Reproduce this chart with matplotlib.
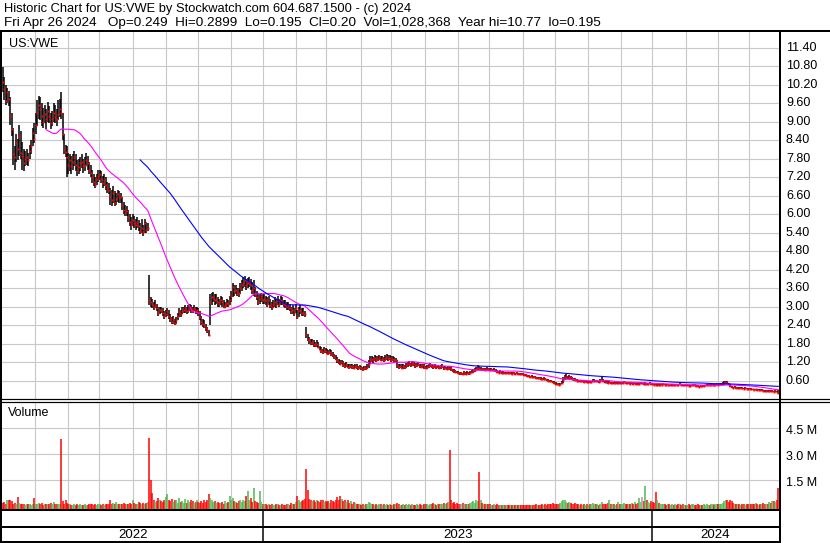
import numpy as np
import pandas as pd
import matplotlib
matplotlib.use('Agg')
import matplotlib.pyplot as plt
from matplotlib.lines import Line2D
from matplotlib.transforms import blended_transform_factory, offset_copy

plt.rcParams['font.family'] = ['Liberation Sans', 'DejaVu Sans']

# daily bars May 2022 - Apr 2024, one row per month
close = [
    10.30, 10.05, 9.67, 9.95, 9.73, 9.20, 8.75, 7.95, 7.84, 8.30, 8.10, 8.55, 8.00, 7.90, 7.67, 7.80, 7.87, 7.75, 8.05, 8.20, 8.65, 8.45,
    8.90, 9.30, 9.56, 9.40, 9.20, 9.00, 9.25, 9.10, 9.35, 9.20, 8.95, 9.08, 9.30, 9.15, 9.08, 9.25, 9.40, 9.30, 8.60, 8.10, 8.03, 7.84,
    7.60, 7.75, 7.55, 7.70, 7.85, 7.60, 7.45, 7.52, 7.65, 7.70, 7.55, 7.60, 7.77, 7.65, 7.45, 7.35, 7.20, 7.05, 6.96, 7.15, 7.25,
    7.29, 7.15, 7.00, 7.10, 6.95, 6.85, 6.80, 6.60, 6.45, 6.70, 6.37, 6.50, 6.65, 6.55, 6.57, 6.30, 6.15, 6.05, 6.10, 5.90, 5.75, 5.66, 5.80,
    5.70, 5.66, 5.75, 5.60, 5.45, 5.55, 5.43, 5.70, 5.50, 5.55, 3.21, 3.15, 3.10, 3.00, 3.05, 2.95, 2.79, 2.90, 2.89, 2.80, 2.70, 2.75,
    2.85, 2.70, 2.60, 2.50, 2.60, 2.46, 2.55, 2.70, 2.82, 2.75, 2.85, 2.89, 2.95, 2.85, 2.90, 2.98, 2.90, 2.89, 2.95, 2.85, 2.90,
    2.80, 2.65, 2.50, 2.45, 2.40, 2.30, 2.24, 2.07, 3.15, 3.30, 3.31, 3.20, 3.25, 3.15, 3.10, 3.20, 3.15, 3.00, 3.05, 3.11, 3.05, 3.20,
    3.35, 3.64, 3.50, 3.55, 3.45, 3.44, 3.60, 3.70, 3.77, 3.85, 3.70, 3.75, 3.80, 3.70, 3.55, 3.60, 3.40, 3.30, 3.15, 3.25, 3.35, 3.20,
    3.25, 3.21, 3.10, 3.20, 3.05, 3.00, 3.10, 3.15, 3.05, 3.20, 3.10, 3.21, 3.15, 3.10, 3.05, 3.00, 3.05, 2.95, 2.85, 2.89, 2.80, 2.95,
    2.66, 2.85, 2.90, 2.80, 2.79, 2.75, 2.10, 1.95, 1.90, 1.81, 1.85, 1.78, 1.75, 1.80, 1.68, 1.60, 1.55, 1.52, 1.58, 1.55,
    1.50, 1.49, 1.52, 1.45, 1.42, 1.35, 1.30, 1.25, 1.20, 1.15, 1.20, 1.10, 1.08, 1.12, 1.05, 1.03, 1.08, 1.05, 1.02, 1.06, 1.03, 1.00, 1.04,
    1.00, 0.98, 1.02, 1.00, 1.05, 1.15, 1.28, 1.30, 1.25, 1.32, 1.26, 1.30, 1.35, 1.28, 1.30, 1.26, 1.32, 1.35, 1.30, 1.33,
    1.28, 1.30, 1.25, 1.26, 1.10, 1.05, 1.08, 1.02, 1.06, 1.03, 1.10, 1.12, 1.15, 1.10, 1.16, 1.12, 1.08, 1.10, 1.13, 1.08, 1.05, 1.09, 1.04,
    1.00, 1.05, 1.08, 1.10, 1.06, 1.04, 1.07, 1.03, 1.05, 1.02, 1.03, 1.06, 1.00, 1.02, 0.98, 1.01, 1.00, 0.96, 0.93, 0.90, 0.88, 0.87,
    0.85, 0.83, 0.83, 0.80, 0.84, 0.82, 0.85, 0.83, 0.86, 0.88, 0.90, 0.94, 0.98, 1.02, 0.97, 0.98, 0.96, 0.97, 0.95, 0.97, 0.96,
    0.95, 0.96, 0.94, 0.95, 0.92, 0.88, 0.86, 0.88, 0.85, 0.86, 0.84, 0.85, 0.84, 0.83, 0.84, 0.82, 0.83, 0.82, 0.83, 0.81, 0.82, 0.81, 0.80,
    0.78, 0.77, 0.75, 0.74, 0.72, 0.73, 0.71, 0.70, 0.68, 0.69, 0.67, 0.66, 0.65, 0.66, 0.64, 0.62, 0.60, 0.58, 0.57, 0.55, 0.53,
    0.50, 0.48, 0.47, 0.49, 0.52, 0.62, 0.70, 0.72, 0.68, 0.72, 0.70, 0.66, 0.64, 0.62, 0.60, 0.58, 0.59, 0.57, 0.58, 0.56, 0.57, 0.55,
    0.56, 0.54, 0.55, 0.58, 0.60, 0.57, 0.58, 0.56, 0.60, 0.62, 0.58, 0.55, 0.54, 0.53, 0.54, 0.52, 0.53, 0.52, 0.53, 0.51, 0.52, 0.51,
    0.52, 0.53, 0.55, 0.52, 0.51, 0.52, 0.50, 0.51, 0.50, 0.51, 0.50, 0.49, 0.50, 0.51, 0.51, 0.49, 0.50, 0.49, 0.50, 0.51, 0.50,
    0.48, 0.47, 0.46, 0.47, 0.45, 0.46, 0.47, 0.48, 0.46, 0.45, 0.46, 0.44, 0.45, 0.46, 0.45, 0.47, 0.46, 0.45, 0.48, 0.47, 0.45, 0.46, 0.44,
    0.45, 0.43, 0.42, 0.44, 0.46, 0.45, 0.43, 0.41, 0.40, 0.42, 0.41, 0.43, 0.44, 0.45, 0.46, 0.45, 0.46, 0.47, 0.46, 0.47, 0.48,
    0.47, 0.48, 0.49, 0.50, 0.52, 0.54, 0.52, 0.48, 0.42, 0.38, 0.37, 0.38, 0.36, 0.37, 0.35, 0.36, 0.35, 0.34, 0.36, 0.34, 0.33,
    0.34, 0.32, 0.31, 0.30, 0.31, 0.29, 0.30, 0.28, 0.29, 0.27, 0.26, 0.27, 0.25, 0.26, 0.25, 0.26, 0.24, 0.25, 0.24, 0.20,
]
high = [
    10.77, 10.45, 10.20, 10.10, 10.00, 9.80, 9.30, 8.80, 8.20, 8.60, 8.45, 8.90, 8.70, 8.35, 8.10, 8.05, 8.10, 8.00, 8.25, 8.40, 8.80, 8.95,
    9.30, 9.70, 9.85, 9.80, 9.60, 9.45, 9.55, 9.40, 9.65, 9.50, 9.30, 9.35, 9.60, 9.55, 9.40, 9.70, 9.75, 9.95, 9.30, 8.60, 8.25, 8.20,
    8.00, 7.95, 7.90, 7.95, 8.05, 7.95, 7.75, 7.80, 7.85, 7.95, 7.80, 7.85, 8.00, 7.90, 7.70, 7.60, 7.45, 7.30, 7.20, 7.30, 7.45,
    7.45, 7.40, 7.25, 7.30, 7.20, 7.05, 7.00, 6.85, 6.80, 6.90, 6.75, 6.70, 6.80, 6.75, 6.70, 6.55, 6.40, 6.30, 6.25, 6.15, 6.00, 5.90, 6.00,
    5.95, 5.85, 5.90, 5.80, 5.70, 5.85, 5.65, 5.85, 5.75, 5.70, 4.02, 3.30, 3.25, 3.15, 3.20, 3.10, 3.00, 3.00, 3.00, 2.95, 2.85, 2.90,
    2.95, 2.90, 2.75, 2.65, 2.70, 2.60, 2.65, 2.80, 2.95, 2.90, 3.00, 3.00, 3.05, 3.00, 3.05, 3.10, 3.05, 3.00, 3.05, 3.00, 3.00,
    2.95, 2.85, 2.70, 2.60, 2.55, 2.45, 2.35, 2.25, 3.40, 3.45, 3.47, 3.40, 3.40, 3.30, 3.25, 3.35, 3.30, 3.20, 3.15, 3.25, 3.20, 3.35,
    3.50, 3.75, 3.70, 3.70, 3.60, 3.60, 3.75, 3.85, 3.96, 3.98, 3.90, 3.92, 3.95, 3.90, 3.80, 3.85, 3.65, 3.50, 3.45, 3.40, 3.45, 3.40,
    3.40, 3.35, 3.30, 3.35, 3.25, 3.15, 3.20, 3.30, 3.25, 3.35, 3.25, 3.35, 3.30, 3.20, 3.20, 3.15, 3.15, 3.10, 3.00, 3.05, 2.95, 3.10,
    2.90, 3.00, 3.05, 2.95, 2.95, 2.85, 2.35, 2.10, 2.00, 1.95, 1.95, 1.90, 1.85, 1.90, 1.85, 1.72, 1.68, 1.62, 1.68, 1.65,
    1.62, 1.60, 1.62, 1.58, 1.52, 1.45, 1.42, 1.35, 1.30, 1.25, 1.28, 1.22, 1.18, 1.20, 1.15, 1.12, 1.15, 1.12, 1.10, 1.14, 1.12, 1.08, 1.10,
    1.08, 1.05, 1.08, 1.07, 1.12, 1.25, 1.38, 1.40, 1.35, 1.42, 1.38, 1.40, 1.44, 1.38, 1.40, 1.36, 1.42, 1.45, 1.42, 1.44,
    1.38, 1.40, 1.35, 1.34, 1.28, 1.15, 1.15, 1.12, 1.12, 1.10, 1.18, 1.20, 1.22, 1.18, 1.22, 1.20, 1.16, 1.18, 1.20, 1.15, 1.12, 1.15, 1.12,
    1.08, 1.10, 1.14, 1.16, 1.12, 1.10, 1.12, 1.09, 1.10, 1.08, 1.09, 1.12, 1.08, 1.07, 1.05, 1.06, 1.06, 1.03, 0.99, 0.96, 0.94, 0.92,
    0.90, 0.88, 0.88, 0.86, 0.90, 0.88, 0.90, 0.88, 0.92, 0.93, 0.96, 1.00, 1.04, 1.10, 1.06, 1.04, 1.02, 1.02, 1.00, 1.03, 1.01,
    1.00, 1.01, 0.99, 1.00, 0.97, 0.94, 0.92, 0.93, 0.90, 0.90, 0.89, 0.89, 0.88, 0.88, 0.88, 0.87, 0.87, 0.86, 0.87, 0.85, 0.86, 0.85, 0.84,
    0.82, 0.81, 0.79, 0.78, 0.76, 0.77, 0.75, 0.74, 0.72, 0.73, 0.71, 0.70, 0.69, 0.70, 0.68, 0.66, 0.64, 0.62, 0.61, 0.59, 0.57,
    0.55, 0.53, 0.51, 0.53, 0.58, 0.70, 0.78, 0.80, 0.76, 0.78, 0.76, 0.72, 0.69, 0.67, 0.65, 0.63, 0.63, 0.61, 0.62, 0.60, 0.61, 0.59,
    0.60, 0.58, 0.59, 0.64, 0.66, 0.62, 0.62, 0.60, 0.66, 0.72, 0.64, 0.59, 0.58, 0.57, 0.57, 0.56, 0.56, 0.55, 0.56, 0.55, 0.55, 0.54,
    0.55, 0.56, 0.60, 0.56, 0.54, 0.55, 0.54, 0.54, 0.53, 0.54, 0.53, 0.52, 0.53, 0.54, 0.54, 0.52, 0.54, 0.52, 0.53, 0.54, 0.53,
    0.52, 0.50, 0.49, 0.50, 0.48, 0.49, 0.50, 0.51, 0.49, 0.48, 0.49, 0.47, 0.48, 0.49, 0.48, 0.50, 0.49, 0.48, 0.52, 0.50, 0.48, 0.49, 0.47,
    0.48, 0.47, 0.45, 0.47, 0.50, 0.48, 0.46, 0.44, 0.43, 0.45, 0.44, 0.46, 0.47, 0.48, 0.49, 0.48, 0.49, 0.50, 0.49, 0.50, 0.51,
    0.50, 0.51, 0.52, 0.54, 0.57, 0.60, 0.60, 0.53, 0.48, 0.43, 0.40, 0.41, 0.39, 0.40, 0.38, 0.39, 0.38, 0.37, 0.39, 0.37, 0.36,
    0.37, 0.35, 0.34, 0.33, 0.34, 0.32, 0.33, 0.31, 0.32, 0.30, 0.29, 0.30, 0.28, 0.29, 0.28, 0.29, 0.27, 0.28, 0.27, 0.29,
]
low = [
    9.95, 9.70, 9.55, 9.60, 9.50, 8.90, 8.55, 7.60, 7.45, 7.70, 7.75, 7.90, 7.80, 7.45, 7.40, 7.55, 7.60, 7.55, 7.80, 7.95, 8.20, 8.30,
    8.60, 8.85, 9.10, 9.05, 8.85, 8.80, 8.95, 8.75, 9.00, 8.95, 8.75, 8.85, 9.00, 8.95, 8.85, 9.05, 9.15, 9.10, 8.40, 7.95, 7.85, 7.20,
    7.30, 7.40, 7.30, 7.45, 7.55, 7.40, 7.25, 7.30, 7.40, 7.50, 7.35, 7.40, 7.55, 7.45, 7.30, 7.20, 7.00, 6.90, 6.85, 6.95, 7.05,
    7.10, 7.00, 6.85, 6.90, 6.80, 6.70, 6.65, 6.30, 6.25, 6.35, 6.25, 6.30, 6.40, 6.35, 6.35, 6.15, 6.00, 5.95, 5.95, 5.75, 5.60, 5.50, 5.60,
    5.55, 5.50, 5.55, 5.45, 5.35, 5.40, 5.30, 5.40, 5.40, 5.45, 3.05, 3.00, 2.95, 2.90, 2.95, 2.85, 2.70, 2.75, 2.80, 2.70, 2.60, 2.65,
    2.70, 2.60, 2.50, 2.45, 2.45, 2.40, 2.42, 2.55, 2.65, 2.65, 2.75, 2.80, 2.80, 2.75, 2.80, 2.85, 2.80, 2.80, 2.85, 2.75, 2.80,
    2.70, 2.55, 2.40, 2.35, 2.30, 2.20, 2.15, 2.05, 2.40, 3.05, 3.15, 3.05, 3.10, 3.00, 3.00, 3.05, 3.00, 2.95, 2.95, 3.00, 2.98, 3.05,
    3.15, 3.30, 3.35, 3.40, 3.35, 3.30, 3.40, 3.50, 3.60, 3.65, 3.55, 3.60, 3.65, 3.55, 3.40, 3.35, 3.30, 3.20, 3.05, 3.10, 3.15, 3.10,
    3.10, 3.05, 3.00, 3.05, 2.95, 2.90, 2.95, 3.00, 2.95, 3.05, 3.00, 3.05, 3.05, 3.00, 2.95, 2.90, 2.90, 2.85, 2.75, 2.75, 2.70, 2.80,
    2.60, 2.65, 2.75, 2.70, 2.70, 2.65, 1.97, 1.88, 1.80, 1.75, 1.75, 1.70, 1.68, 1.70, 1.65, 1.58, 1.50, 1.45, 1.50, 1.48,
    1.45, 1.42, 1.45, 1.40, 1.35, 1.30, 1.25, 1.18, 1.12, 1.10, 1.12, 1.05, 1.02, 1.05, 1.00, 0.98, 1.00, 0.97, 0.96, 1.00, 0.98, 0.95, 0.97,
    0.94, 0.92, 0.95, 0.94, 0.98, 1.02, 1.12, 1.20, 1.18, 1.22, 1.20, 1.22, 1.25, 1.22, 1.22, 1.20, 1.24, 1.26, 1.22, 1.25,
    1.20, 1.22, 1.18, 1.18, 1.02, 0.98, 1.00, 0.97, 0.99, 0.98, 1.02, 1.05, 1.08, 1.04, 1.08, 1.06, 1.02, 1.04, 1.06, 1.02, 1.00, 1.02, 0.98,
    0.96, 0.98, 1.00, 1.03, 1.00, 0.99, 1.00, 0.98, 1.00, 0.97, 0.98, 1.00, 0.95, 0.96, 0.94, 0.95, 0.94, 0.92, 0.89, 0.86, 0.84, 0.83,
    0.80, 0.79, 0.78, 0.77, 0.79, 0.78, 0.80, 0.79, 0.81, 0.83, 0.85, 0.88, 0.92, 0.95, 0.93, 0.94, 0.92, 0.93, 0.91, 0.93, 0.92,
    0.91, 0.92, 0.90, 0.91, 0.88, 0.85, 0.83, 0.84, 0.82, 0.82, 0.81, 0.82, 0.81, 0.80, 0.81, 0.79, 0.80, 0.79, 0.80, 0.78, 0.79, 0.78, 0.77,
    0.75, 0.74, 0.72, 0.71, 0.69, 0.70, 0.68, 0.67, 0.65, 0.66, 0.64, 0.63, 0.62, 0.63, 0.61, 0.59, 0.57, 0.55, 0.54, 0.52, 0.50,
    0.47, 0.45, 0.44, 0.46, 0.48, 0.52, 0.62, 0.66, 0.64, 0.66, 0.65, 0.62, 0.60, 0.58, 0.57, 0.55, 0.55, 0.54, 0.54, 0.53, 0.54, 0.52,
    0.53, 0.51, 0.52, 0.54, 0.56, 0.54, 0.55, 0.53, 0.55, 0.57, 0.55, 0.52, 0.51, 0.50, 0.51, 0.50, 0.50, 0.49, 0.50, 0.49, 0.49, 0.48,
    0.49, 0.50, 0.51, 0.49, 0.48, 0.49, 0.48, 0.48, 0.47, 0.48, 0.47, 0.46, 0.47, 0.48, 0.48, 0.46, 0.47, 0.46, 0.47, 0.48, 0.47,
    0.46, 0.45, 0.44, 0.45, 0.43, 0.44, 0.45, 0.45, 0.44, 0.43, 0.44, 0.42, 0.43, 0.44, 0.43, 0.45, 0.44, 0.43, 0.45, 0.45, 0.43, 0.44, 0.42,
    0.43, 0.41, 0.40, 0.41, 0.43, 0.43, 0.40, 0.39, 0.38, 0.39, 0.39, 0.40, 0.42, 0.43, 0.44, 0.43, 0.44, 0.45, 0.44, 0.45, 0.46,
    0.45, 0.46, 0.46, 0.47, 0.48, 0.50, 0.49, 0.45, 0.38, 0.35, 0.35, 0.35, 0.34, 0.34, 0.33, 0.34, 0.33, 0.32, 0.33, 0.32, 0.31,
    0.32, 0.30, 0.29, 0.28, 0.29, 0.27, 0.28, 0.26, 0.27, 0.25, 0.24, 0.25, 0.23, 0.24, 0.23, 0.24, 0.22, 0.23, 0.22, 0.195,
]
# millions of shares
volume = [
    0.15, 0.20, 0.12, 0.30, 0.32, 0.30, 0.25, 0.12, 0.15, 0.10, 0.50, 0.18, 0.12, 0.08, 0.10, 0.06, 0.10, 0.08, 0.12, 0.06, 0.10, 0.45,
    0.12, 0.10, 0.15, 0.08, 0.18, 0.06, 0.10, 0.12, 0.08, 0.10, 0.15, 0.12, 0.22, 0.10, 0.08, 0.12, 0.10, 3.85, 0.25, 0.12, 0.30, 0.15,
    0.08, 0.10, 0.06, 0.05, 0.08, 0.06, 0.10, 0.05, 0.07, 0.04, 0.06, 0.08, 0.05, 0.06, 0.10, 0.08, 0.12, 0.06, 0.08, 0.05, 0.12,
    0.10, 0.06, 0.08, 0.05, 0.10, 0.08, 0.12, 0.35, 0.10, 0.15, 0.08, 0.22, 0.10, 0.12, 0.08, 0.10, 0.15, 0.08, 0.12, 0.10, 0.15, 0.12, 0.30,
    0.15, 0.10, 0.12, 0.20, 0.15, 0.10, 0.18, 0.12, 0.15, 0.20, 3.90, 1.50, 0.75, 0.35, 0.20, 0.25, 0.45, 0.30, 0.25, 0.20, 0.35, 0.50,
    0.65, 0.30, 0.25, 0.40, 0.20, 0.35, 0.30, 0.15, 0.45, 0.20, 0.25, 0.18, 0.40, 0.15, 0.30, 0.20, 0.35, 0.25, 0.15, 0.20, 0.30,
    0.20, 0.15, 0.25, 0.18, 0.30, 0.22, 0.35, 0.65, 0.45, 0.30, 0.20, 0.25, 0.15, 0.22, 0.18, 0.15, 0.20, 0.12, 0.25, 0.15, 0.20, 0.55,
    0.30, 0.45, 0.25, 0.20, 0.15, 0.25, 0.30, 0.20, 0.35, 0.25, 0.55, 0.85, 0.30, 0.45, 0.20, 1.05, 0.25, 0.20, 0.15, 0.85, 0.20, 0.10,
    0.08, 0.12, 0.05, 0.10, 0.06, 0.08, 0.05, 0.04, 0.07, 0.10, 0.06, 0.05, 0.08, 0.04, 0.06, 0.12, 0.08, 0.05, 0.15, 0.10, 0.12, 0.20,
    0.55, 0.30, 0.20, 0.25, 0.35, 0.40, 2.10, 0.90, 0.40, 0.30, 0.25, 0.35, 0.20, 0.30, 0.25, 0.20, 0.35, 0.30, 0.20, 0.25,
    0.20, 0.25, 0.15, 0.30, 0.25, 0.20, 0.35, 0.50, 0.30, 0.55, 0.40, 0.25, 0.30, 0.20, 0.35, 0.15, 0.25, 0.12, 0.20, 0.15, 0.10, 0.12, 0.08,
    0.06, 0.08, 0.05, 0.10, 0.12, 0.20, 0.15, 0.08, 0.10, 0.06, 0.08, 0.05, 0.10, 0.07, 0.06, 0.08, 0.05, 0.10, 0.06, 0.08,
    0.06, 0.05, 0.08, 0.10, 0.18, 0.10, 0.06, 0.05, 0.08, 0.06, 0.10, 0.05, 0.07, 0.06, 0.08, 0.05, 0.06, 0.10, 0.05, 0.08, 0.06, 0.05, 0.07,
    0.08, 0.10, 0.06, 0.12, 0.08, 0.15, 0.10, 0.06, 0.08, 0.12, 0.10, 0.08, 0.15, 0.12, 0.18, 0.20, 3.25, 0.35, 0.15, 0.20, 0.12, 0.15,
    0.10, 0.12, 0.08, 0.15, 0.10, 0.12, 0.08, 0.10, 0.15, 0.20, 0.25, 0.15, 0.30, 0.25, 1.97, 0.30, 0.15, 0.10, 0.12, 0.08, 0.10,
    0.08, 0.06, 0.05, 0.10, 0.06, 0.08, 0.05, 0.04, 0.06, 0.05, 0.03, 0.04, 0.06, 0.05, 0.03, 0.04, 0.05, 0.03, 0.04, 0.06, 0.03, 0.05, 0.04,
    0.03, 0.04, 0.05, 0.03, 0.04, 0.06, 0.05, 0.04, 0.08, 0.05, 0.06, 0.04, 0.10, 0.06, 0.08, 0.05, 0.12, 0.10, 0.08, 0.15, 0.12,
    0.10, 0.08, 0.12, 0.15, 0.25, 0.35, 0.30, 0.20, 0.15, 0.22, 0.18, 0.12, 0.10, 0.15, 0.08, 0.10, 0.06, 0.08, 0.05, 0.07, 0.06, 0.08,
    0.06, 0.08, 0.10, 0.15, 0.12, 0.08, 0.10, 0.06, 0.12, 0.20, 0.10, 0.08, 0.12, 0.15, 0.30, 0.10, 0.08, 0.12, 0.06, 0.08, 0.20, 0.10,
    0.08, 0.12, 0.15, 0.10, 0.08, 0.12, 0.10, 0.15, 0.08, 0.20, 0.12, 0.15, 0.45, 0.20, 0.50, 0.25, 1.15, 0.30, 0.20, 0.15, 0.25,
    0.20, 0.15, 0.80, 0.30, 0.15, 0.10, 0.12, 0.08, 0.10, 0.06, 0.08, 0.10, 0.05, 0.08, 0.06, 0.10, 0.05, 0.08, 0.12, 0.06, 0.08, 0.05, 0.06,
    0.06, 0.08, 0.05, 0.07, 0.10, 0.06, 0.05, 0.08, 0.04, 0.06, 0.05, 0.07, 0.06, 0.08, 0.05, 0.06, 0.10, 0.08, 0.06, 0.12, 0.10,
    0.08, 0.10, 0.12, 0.15, 0.25, 0.30, 0.35, 0.20, 0.30, 0.25, 0.15, 0.10, 0.12, 0.08, 0.10, 0.06, 0.08, 0.12, 0.05, 0.08, 0.10,
    0.08, 0.10, 0.12, 0.08, 0.15, 0.10, 0.06, 0.12, 0.08, 0.15, 0.10, 0.12, 0.08, 0.20, 0.15, 0.28, 0.25, 0.20, 0.35, 1.03,
]
price_labels = [0.60, 1.20, 1.80, 2.40, 3.00, 3.60, 4.20, 4.80, 5.40, 6.00, 6.60,
                7.20, 7.80, 8.40, 9.00, 9.60, 10.20, 10.80, 11.40]
vol_labels = [1.5, 3.0, 4.5]
header1 = 'Historic Chart for US:VWE by Stockwatch.com 604.687.1500 - (c) 2024'
header2 = ('Fri Apr 26 2024   Op=0.249  Hi=0.2899  Lo=0.195  Cl=0.20  '
           'Vol=1,028,368  Year hi=10.77  lo=0.195')

n = min(len(close), len(high), len(low), len(volume))
close, high, low, volume = close[:n], high[:n], low[:n], volume[:n]
dates = pd.bdate_range('2022-05-02', periods=n)
x = np.arange(n)
month_starts = [i for i in range(1, n) if dates[i].month != dates[i - 1].month]
year_starts = [i for i in range(1, n) if dates[i].year != dates[i - 1].year]

W, H = 830, 543
GRID = '#c8c8c8'
fig = plt.figure(figsize=(W / 100, H / 100), dpi=100)


def fx(px):
    return px / W


def fy(py):
    return 1 - py / H


def hline(y, x0, x1, lw=2):
    fig.add_artist(Line2D([fx(x0), fx(x1)], [fy(y), fy(y)], color='black', lw=lw * 0.72))


def vline(xp, y0, y1, lw=2):
    fig.add_artist(Line2D([fx(xp), fx(xp)], [fy(y0), fy(y1)], color='black', lw=lw * 0.72))


L, R = 2, 779
P_TOP, P_BOT = 31.5, 399
V_TOP, V_BOT = 402, 510
ax = fig.add_axes([fx(L), fy(P_BOT), (R - L) / W, (P_BOT - P_TOP) / H])
axv = fig.add_axes([fx(L), fy(V_BOT), (R - L) / W, (V_BOT - V_TOP) / H])
for a in (ax, axv):
    a.set_axis_off()
    a.set_xlim(-0.5, n - 0.5)
    for m in month_starts:
        a.axvline(m - 0.5, color=GRID, lw=0.8, zorder=0)

# price panel
ax.set_ylim(0, 11.93)
for p in price_labels:
    ax.axhline(p, color=GRID, lw=0.8, zorder=0)
ax.vlines(x, low, high, color='black', lw=1.1, zorder=3)
ax.plot(x, close, ls='none', marker='s', ms=1.4, mew=0, color='#ff0000', zorder=4)
s = pd.Series(close)
ax.plot(x, s.rolling(30).mean(), color='#ff00ff', lw=0.8, zorder=5)
ax.plot(x, s.rolling(93).mean(), color='#0000ff', lw=0.8, zorder=5)
tp = blended_transform_factory(ax.transAxes, ax.transData)
for p in price_labels:
    ax.text((786 - L) / (R - L), p, f'{p:.2f}', transform=tp, fontsize=9,
            va='center', ha='left', clip_on=False)

# volume panel
base = 0.25
axv.set_ylim(-base, 6.0)
for v in vol_labels:
    axv.axhline(v, color=GRID, lw=0.8, zorder=0)
colors = ['#ff0000']
for i in range(1, n):
    if close[i] > close[i - 1]:
        colors.append('#4db84d')
    elif close[i] < close[i - 1]:
        colors.append('#ff0000')
    else:
        colors.append('#a0a0a0')
axv.vlines(x, -base, volume, colors=colors, lw=1.1, zorder=2)
tv = offset_copy(blended_transform_factory(axv.transAxes, axv.transData), fig=fig, y=-3, units='dots')
for v in vol_labels:
    axv.text((786 - L) / (R - L), v, f'{v:.1f} M', transform=tv, fontsize=9,
             va='center', ha='left', clip_on=False)

# texts
fig.text(fx(4), fy(9), header1, fontsize=9.3, va='center', ha='left')
fig.text(fx(4), fy(23), header2, fontsize=9.7, va='center', ha='left')
fig.text(fx(9), fy(44), 'US:VWE', fontsize=9, va='center', ha='left')
fig.text(fx(8), fy(413), 'Volume', fontsize=9, va='center', ha='left')

ppb = (R - L) / n
bounds = [L] + [L + ys * ppb for ys in year_starts] + [R]
for k, yr in enumerate(['2022', '2023', '2024']):
    fig.text(fx((bounds[k] + bounds[k + 1]) / 2), fy(535), yr, fontsize=9.5,
             va='center', ha='center')

# frame
hline(31, 0, W)
vline(1, 31, H)
vline(780, 31, H)
hline(399.2, 0, W, 1.2)
hline(402.2, 0, W, 1.2)
hline(510, 0, 780)
hline(527, 0, 780)
hline(542, 0, 780)
for b in bounds[1:-1]:
    vline(b, 510, 542, 1.5)

fig.savefig('out.png', dpi=100)
